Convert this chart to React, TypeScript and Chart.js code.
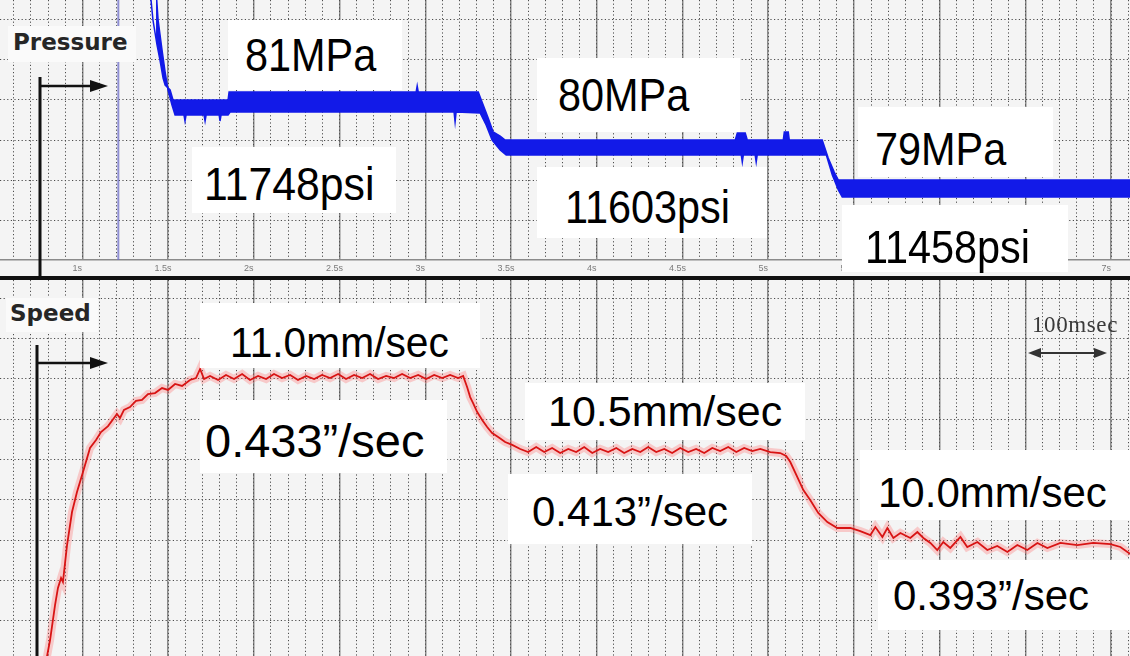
import React, { useEffect, useRef } from "react";
import { Chart, registerables } from "chart.js";

Chart.register(...registerables);

// ---------- DATA ----------
const timeMin = 0.52;
const timeMax = 7.11;
const majorTimeTicks = [1, 1.5, 2, 2.5, 3, 3.5, 4, 4.5, 5, 5.5, 6, 6.5, 7];
const majorTimeLabels = ["1s", "1.5s", "2s", "2.5s", "3s", "3.5s", "4s", "4.5s", "5s", "5.5s", "6s", "6.5s", "7s"];

const pressureMin = 77;
const pressureMax = 83.5;
const pressureGridTicks = [78, 79, 80, 81, 82, 83];

const speedMin = 9.282;
const speedMax = 11.614;
const speedGridTicks = [9.5, 9.75, 10, 10.25, 10.5, 10.75, 11, 11.25, 11.5];

const cursorTime = 1.21;

// Pressure trace (recorder band) upper edge, MPa
const pressureUpperTime = [1.395, 1.412, 1.436, 1.453, 1.471, 1.483, 1.512, 1.529, 1.85, 1.856, 2.947, 2.953, 2.959, 3.309, 3.338, 3.367, 3.396, 3.437, 3.466, 4.808, 4.82, 4.866, 4.878, 5.088, 5.094, 5.117, 5.123, 5.315, 5.35, 5.385, 5.409, 7.14];
const pressureUpperMPa = [83.75, 83.0, 82.375, 82.0, 81.55, 81.375, 81.25, 81.0, 81.0, 81.2, 81.2, 81.35, 81.2, 81.2, 80.875, 80.55, 80.2, 80.1, 80.0, 80.0, 80.175, 80.175, 80.0, 80.0, 80.2, 80.2, 80.0, 80.0, 79.55, 79.2, 79.0, 79.0];

// Pressure trace lower edge, MPa
const pressureLowerTime = [1.43, 1.442, 1.465, 1.483, 1.5, 1.523, 1.541, 1.593, 1.599, 1.605, 1.71, 1.716, 1.722, 1.798, 1.803, 1.809, 1.85, 1.862, 3.168, 3.174, 3.18, 3.32, 3.355, 3.39, 3.437, 3.472, 4.843, 4.849, 4.855, 4.924, 4.93, 4.936, 5.339, 5.374, 5.409, 5.432, 7.14];
const pressureLowerMPa = [83.75, 83.0, 82.25, 81.7, 81.25, 80.875, 80.625, 80.625, 80.475, 80.625, 80.625, 80.475, 80.625, 80.625, 80.475, 80.625, 80.625, 80.7, 80.7, 80.45, 80.7, 80.675, 80.375, 80.0, 79.75, 79.625, 79.625, 79.45, 79.625, 79.625, 79.45, 79.625, 79.625, 79.125, 78.75, 78.575, 78.575];

// Speed trace, mm/sec
const speedTime = [0.777, 0.812, 0.841, 0.858, 0.876, 0.887, 0.911, 0.94, 0.969, 1.004, 1.045, 1.08, 1.109, 1.15, 1.185, 1.202, 1.22, 1.243, 1.278, 1.313, 1.348, 1.383, 1.424, 1.465, 1.5, 1.541, 1.582, 1.628, 1.663, 1.687, 1.71, 1.745, 1.792, 1.838, 1.885, 1.932, 1.978, 2.025, 2.072, 2.118, 2.165, 2.212, 2.258, 2.305, 2.352, 2.398, 2.445, 2.492, 2.538, 2.585, 2.632, 2.678, 2.725, 2.772, 2.818, 2.865, 2.912, 2.959, 3.005, 3.052, 3.099, 3.145, 3.192, 3.221, 3.244, 3.262, 3.279, 3.303, 3.332, 3.361, 3.39, 3.425, 3.466, 3.507, 3.554, 3.6, 3.647, 3.694, 3.74, 3.787, 3.834, 3.88, 3.927, 3.974, 4.02, 4.067, 4.114, 4.16, 4.207, 4.254, 4.3, 4.347, 4.394, 4.44, 4.487, 4.534, 4.58, 4.627, 4.674, 4.72, 4.767, 4.814, 4.86, 4.907, 4.954, 5.012, 5.07, 5.105, 5.129, 5.17, 5.205, 5.245, 5.292, 5.345, 5.403, 5.479, 5.537, 5.596, 5.625, 5.666, 5.695, 5.73, 5.771, 5.829, 5.87, 5.905, 5.946, 5.986, 6.021, 6.062, 6.121, 6.161, 6.22, 6.278, 6.336, 6.395, 6.453, 6.511, 6.57, 6.628, 6.704, 6.803, 6.896, 6.996, 7.054, 7.112];
const speedMmSec = [9.183, 9.381, 9.598, 9.704, 9.766, 9.741, 9.97, 10.175, 10.299, 10.423, 10.572, 10.622, 10.671, 10.708, 10.758, 10.783, 10.758, 10.808, 10.826, 10.864, 10.87, 10.907, 10.913, 10.944, 10.932, 10.969, 10.957, 10.994, 11.006, 11.062, 11.0, 11.019, 10.994, 11.025, 11.0, 11.031, 10.994, 11.019, 11.0, 11.031, 11.006, 11.025, 10.994, 11.019, 11.0, 11.025, 11.006, 11.031, 11.0, 11.025, 11.006, 11.031, 11.0, 11.019, 11.006, 11.031, 11.006, 11.025, 11.0, 11.025, 11.006, 11.025, 11.006, 11.019, 10.95, 10.888, 10.851, 10.795, 10.746, 10.702, 10.665, 10.64, 10.609, 10.591, 10.566, 10.547, 10.578, 10.547, 10.572, 10.541, 10.566, 10.547, 10.578, 10.541, 10.566, 10.547, 10.572, 10.541, 10.566, 10.547, 10.578, 10.547, 10.566, 10.541, 10.572, 10.547, 10.566, 10.541, 10.572, 10.553, 10.578, 10.547, 10.572, 10.553, 10.566, 10.547, 10.541, 10.522, 10.485, 10.392, 10.311, 10.249, 10.169, 10.113, 10.076, 10.076, 10.057, 10.032, 10.082, 10.02, 10.076, 10.014, 10.045, 10.014, 10.051, 10.014, 9.983, 9.939, 9.989, 9.952, 10.02, 9.958, 9.989, 9.939, 9.964, 9.927, 9.97, 9.939, 9.983, 9.952, 9.983, 9.97, 9.983, 9.976, 9.958, 9.914];

// ---------- helpers ----------
const pts = (xs: number[], ys: number[]) => xs.map((x, i) => ({ x, y: ys[i] }));
const minorTimeTicks: number[] = [];
for (let k = Math.ceil(timeMin * 10); k <= Math.floor(timeMax * 10); k++) minorTimeTicks.push(k / 10);

const DOT = "#4c4c4c";
const MAJOR = "#8a8a8a";

function timeAxes(showLabels: boolean) {
  return {
    x: {
      type: "linear",
      position: "bottom",
      min: timeMin,
      max: timeMax,
      afterBuildTicks: (s: any) => { s.ticks = majorTimeTicks.map((v) => ({ value: v })); },
      afterFit: (s: any) => { s.height = showLabels ? 16 : 0; },
      grid: { color: MAJOR, lineWidth: 1.5, drawTicks: false },
      border: { display: showLabels, color: "#8a8a8a", width: 1.5 },
      ticks: {
        display: showLabels,
        autoSkip: false,
        maxRotation: 0,
        padding: 3,
        labelOffset: -5,
        color: "#7a7a7a",
        font: { family: "'Liberation Sans', Arial, sans-serif", size: 9 },
        callback: (v: any) => majorTimeLabels[majorTimeTicks.indexOf(Number(v))] ?? "",
      },
    },
    x2: {
      type: "linear",
      position: "bottom",
      min: timeMin,
      max: timeMax,
      afterBuildTicks: (s: any) => { s.ticks = minorTimeTicks.map((v) => ({ value: v })); },
      afterFit: (s: any) => { s.height = 0; },
      grid: { color: DOT, lineWidth: 1, drawTicks: false },
      border: { display: false, dash: [1.2, 2.4] },
      ticks: { display: false },
    },
  };
}

function valueAxis(min: number, max: number, grid: number[]) {
  return {
    type: "linear",
    position: "left",
    min,
    max,
    afterBuildTicks: (s: any) => { s.ticks = grid.map((v) => ({ value: v })); },
    afterFit: (s: any) => { s.width = 0; },
    grid: { color: DOT, lineWidth: 1, drawTicks: false },
    border: { display: false, dash: [1.2, 2.4] },
    ticks: { display: false },
  };
}

const baseOptions = {
  responsive: true,
  maintainAspectRatio: false,
  animation: false,
  events: [],
  layout: { padding: 0 },
  plugins: { legend: { display: false }, tooltip: { enabled: false } },
  elements: { point: { radius: 0 }, line: { tension: 0 } },
};

const BLUE = "rgb(18,26,232)";

function topConfig(): any {
  return {
    type: "line",
    data: {
      datasets: [
        { data: pts(pressureUpperTime, pressureUpperMPa), borderColor: BLUE, borderWidth: 1.5, fill: false },
        { data: pts(pressureLowerTime, pressureLowerMPa), borderColor: BLUE, borderWidth: 1.5, fill: "-1", backgroundColor: BLUE },
        { data: [{ x: cursorTime, y: pressureMin }, { x: cursorTime, y: pressureMax }], borderColor: "rgba(110,110,200,0.75)", borderWidth: 2, fill: false },
      ],
    },
    options: { ...baseOptions, scales: { ...timeAxes(true), y: valueAxis(pressureMin, pressureMax, pressureGridTicks) } },
  };
}

function bottomConfig(): any {
  const d = pts(speedTime, speedMmSec);
  return {
    type: "line",
    data: {
      datasets: [
        { data: d, borderColor: "#d81414", borderWidth: 1.8, fill: false },
        { data: d, borderColor: "rgba(255,90,90,0.28)", borderWidth: 8, fill: false },
      ],
    },
    options: { ...baseOptions, scales: { ...timeAxes(false), y: valueAxis(speedMin, speedMax, speedGridTicks) } },
  };
}

// ---------- annotations (layout) ----------
type Note = { text: string; box: [number, number, number, number]; tx: number; cap: number; fs: number; sx: number };
const notes: Note[] = [
  { text: "81MPa", box: [228, 20, 402, 90], tx: 245, cap: 38, fs: 46, sx: 0.9 },
  { text: "11748psi", box: [192, 147, 396, 213], tx: 204, cap: 167, fs: 46, sx: 0.93 },
  { text: "80MPa", box: [537, 58, 740, 132], tx: 558, cap: 78, fs: 46, sx: 0.9 },
  { text: "11603psi", box: [537, 167, 767, 238], tx: 565, cap: 190, fs: 46, sx: 0.9 },
  { text: "79MPa", box: [858, 107, 1053, 177], tx: 875, cap: 132, fs: 46, sx: 0.9 },
  { text: "11458psi", box: [842, 205, 1068, 272], tx: 865, cap: 230, fs: 46, sx: 0.9 },
  { text: "11.0mm/sec", box: [200, 303, 480, 368], tx: 230, cap: 327, fs: 42, sx: 0.97 },
  { text: "0.433\u201d/sec", box: [200, 400, 447, 473], tx: 205, cap: 423, fs: 47, sx: 1.0 },
  { text: "10.5mm/sec", box: [525, 383, 805, 440], tx: 548, cap: 396, fs: 43, sx: 1.0 },
  { text: "0.413\u201d/sec", box: [508, 474, 752, 544], tx: 532, cap: 496, fs: 42, sx: 1.0 },
  { text: "10.0mm/sec", box: [860, 450, 1130, 520], tx: 878, cap: 477, fs: 42, sx: 1.0 },
  { text: "0.393\u201d/sec", box: [878, 560, 1130, 630], tx: 893, cap: 580, fs: 42, sx: 1.0 },
];

export default function App() {
  const topRef = useRef<HTMLCanvasElement>(null);
  const botRef = useRef<HTMLCanvasElement>(null);

  useEffect(() => {
    const top = new Chart(topRef.current as HTMLCanvasElement, topConfig());
    const bot = new Chart(botRef.current as HTMLCanvasElement, bottomConfig());
    return () => {
      top.destroy();
      bot.destroy();
    };
  }, []);

  const arial = "'Liberation Sans', Arial, sans-serif";
  const dejavu = "'DejaVu Sans', sans-serif";

  return (
    <div style={{ position: "fixed", left: 0, top: 0, width: 1130, height: 656, background: "#f4f4f4", overflow: "hidden" }}>
      <div style={{ position: "absolute", left: 0, top: 0, width: 1130, height: 276 }}>
        <canvas ref={topRef} />
      </div>
      <div style={{ position: "absolute", left: 0, top: 276, width: 1130, height: 4, background: "#111" }} />
      <div style={{ position: "absolute", left: 0, top: 280, width: 1130, height: 376 }}>
        <canvas ref={botRef} />
      </div>

      {/* panel titles */}
      <div style={{ position: "absolute", left: 8, top: 26, width: 128, height: 36, background: "#fafafa" }} />
      <div style={{ position: "absolute", left: 13, top: 31, fontFamily: dejavu, fontWeight: "bold", fontSize: 23, lineHeight: "23px", color: "#262626", whiteSpace: "nowrap" }}>Pressure</div>
      <div style={{ position: "absolute", left: 6, top: 298, width: 92, height: 34, background: "#fafafa" }} />
      <div style={{ position: "absolute", left: 10, top: 302, fontFamily: dejavu, fontWeight: "bold", fontSize: 23, lineHeight: "23px", color: "#262626", whiteSpace: "nowrap" }}>Speed</div>

      {notes.map((n, i) => (
        <React.Fragment key={i}>
          <div style={{ position: "absolute", left: n.box[0], top: n.box[1], width: n.box[2] - n.box[0], height: n.box[3] - n.box[1], background: "#ffffff" }} />
          <div
            style={{
              position: "absolute",
              left: n.tx,
              top: n.cap - 0.13 * n.fs,
              fontFamily: arial,
              fontSize: n.fs,
              lineHeight: `${n.fs}px`,
              color: "#000",
              whiteSpace: "nowrap",
              transform: `scaleX(${n.sx})`,
              transformOrigin: "left top",
            }}
          >
            {n.text}
          </div>
        </React.Fragment>
      ))}

      <div style={{ position: "absolute", left: 1032, top: 313, fontFamily: "'Liberation Serif', 'Times New Roman', serif", fontSize: 23, lineHeight: "23px", letterSpacing: 0.6, color: "#3a3a3a", whiteSpace: "nowrap" }}>100msec</div>

      <svg width={1130} height={656} style={{ position: "absolute", left: 0, top: 0, pointerEvents: "none" }}>
        <line x1={40} y1={77} x2={40} y2={278} stroke="#111" strokeWidth={3} />
        <line x1={40} y1={86} x2={92} y2={86} stroke="#111" strokeWidth={2.5} />
        <polygon points="90,80 108,86 90,92" fill="#111" />
        <line x1={37} y1={345} x2={37} y2={656} stroke="#111" strokeWidth={3} />
        <line x1={37} y1={363} x2={92} y2={363} stroke="#111" strokeWidth={2.5} />
        <polygon points="90,357 108,363 90,369" fill="#111" />
        <line x1={1038} y1={353} x2={1097} y2={353} stroke="#333" strokeWidth={2} />
        <polygon points="1028,353 1041,348 1041,358" fill="#333" />
        <polygon points="1107,353 1094,348 1094,358" fill="#333" />
      </svg>
    </div>
  );
}
